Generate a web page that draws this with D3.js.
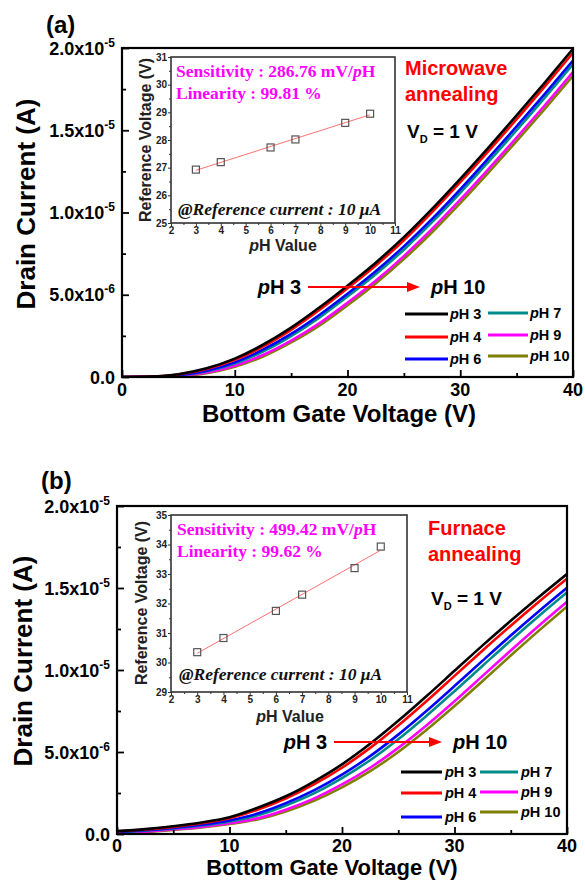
<!DOCTYPE html>
<html><head><meta charset="utf-8">
<script src="https://cdn.jsdelivr.net/npm/d3@7"></script>
<style>
body{margin:0;background:#fff}
svg text{font-family:"Liberation Sans",Arial,sans-serif;font-weight:bold}
</style>
</head><body>
<svg id="c" width="585" height="881"></svg>
<script>
// ---------------- DATA ----------------
const gateVoltage = [0,2.5,5,7.5,10,12.5,15,17.5,20,22.5,25,27.5,30,32.5,35,37.5,40];
const phNames = ["pH 3","pH 4","pH 6","pH 7","pH 9","pH 10"];
const xTickValues = [0,10,20,30,40];
const yTickValues = [0,5e-6,1e-5,1.5e-5,2e-5];

// Microwave annealing, drain current in µA
const mwPH3  = [0,0.03,0.17,0.53,1.12,1.96,3.00,4.22,5.55,6.95,8.50,10.22,12.05,13.95,15.90,17.90,19.95];
const mwPH4  = [0,0.027,0.15,0.48,1.04,1.85,2.87,4.07,5.39,6.78,8.31,10.02,11.84,13.73,15.67,17.67,19.71];
const mwPH6  = [0,0.02,0.11,0.38,0.89,1.66,2.62,3.77,5.06,6.43,7.94,9.61,11.41,13.30,15.23,17.21,19.24];
const mwPH7  = [0,0.016,0.10,0.35,0.82,1.55,2.49,3.61,4.89,6.25,7.74,9.41,11.20,13.08,15.00,16.98,19.01];
const mwPH9  = [0,0.009,0.07,0.27,0.68,1.34,2.21,3.26,4.51,5.85,7.35,9.00,10.78,12.64,14.56,16.52,18.54];
const mwPH10 = [0,0.006,0.056,0.23,0.62,1.24,2.10,3.12,4.36,5.69,7.17,8.80,10.57,12.43,14.34,16.30,18.31];

// Furnace annealing, drain current in µA
const fnPH3  = [0.18,0.30,0.47,0.70,1.02,1.60,2.30,3.20,4.25,5.50,6.90,8.40,9.95,11.50,13.00,14.45,15.85];
const fnPH4  = [0.16,0.276,0.436,0.654,0.956,1.484,2.16,3.02,4.04,5.25,6.62,8.10,9.64,11.19,12.70,14.16,15.57];
const fnPH6  = [0.13,0.23,0.37,0.56,0.83,1.25,1.88,2.66,3.62,4.75,6.06,7.50,9.02,10.57,12.10,13.58,15.01];
const fnPH7  = [0.11,0.204,0.334,0.516,0.764,1.136,1.74,2.48,3.41,4.50,5.78,7.20,8.71,10.26,11.80,13.29,14.73];
const fnPH9  = [0.08,0.14,0.28,0.436,0.654,0.956,1.484,2.16,3.02,4.04,5.25,6.62,8.10,9.64,11.19,12.70,14.16];
const fnPH10 = [0.06,0.12,0.25,0.40,0.61,0.89,1.37,2.02,2.84,3.83,5.00,6.34,7.80,9.33,10.88,12.40,13.87];

// Insets: reference voltage vs pH
const insetPH = [3,4,6,7,9,10];
const refVoltMW = [26.93,27.20,27.73,28.02,28.62,28.95];
const refVoltFN = [30.35,30.83,31.75,32.30,33.20,33.93];
const insetXTicks = [2,3,4,5,6,7,8,9,10,11];

// ---------------- STYLE ----------------
const seriesColors = ["#000000","#ff0000","#0000ff","#008b8b","#ff00ff","#808000"];

const svg = d3.select("#c");
const defs = svg.append("defs");

function phText(sel, label){
  sel.append("tspan").style("font-style","italic").text(label.slice(0,1));
  sel.append("tspan").text(label.slice(1));
}

function sciParts(v){
  if (v === 0) return ["0.0",""];
  const e = Math.floor(Math.log10(v)+1e-9);
  return [(v/Math.pow(10,e)).toFixed(1)+"x10", String(e)];
}

function drawMain(cfg){
  const x = d3.scaleLinear().domain([0,40]).range([cfg.left,cfg.right]);
  const y = d3.scaleLinear().domain([0,2e-5]).range([cfg.bottom,cfg.top]);
  const g = svg.append("g");

  defs.append("clipPath").attr("id","clip"+cfg.id).append("rect")
    .attr("x",cfg.left).attr("y",cfg.top).attr("width",cfg.right-cfg.left).attr("height",cfg.bottom-cfg.top);

  const line = d3.line()
    .x((d,i)=>x(gateVoltage[i]))
    .y(d=>y(d*1e-6))
    .curve(d3.curveMonotoneX);

  const cg = g.append("g").attr("clip-path",`url(#clip${cfg.id})`);
  for (let i = cfg.series.length-1; i >= 0; i--){
    cg.append("path").attr("d",line(cfg.series[i]))
      .attr("fill","none").attr("stroke",seriesColors[i]).attr("stroke-width",2.6);
  }

  const ax = (gen, tr) => {
    const a = g.append("g").attr("transform",tr).call(gen);
    a.select(".domain").remove();
    a.selectAll("line").attr("stroke","#000").attr("stroke-width",1.8);
    a.selectAll("text").remove();
  };
  const xMinor = xTickValues.slice(1).map((v,i)=>(v+xTickValues[i])/2);
  const yMinor = yTickValues.slice(1).map((v,i)=>(v+yTickValues[i])/2);
  ax(d3.axisBottom(x).tickValues(xTickValues).tickSizeInner(-7).tickSizeOuter(0), `translate(0,${cfg.bottom})`);
  ax(d3.axisBottom(x).tickValues(xMinor).tickSizeInner(-4).tickSizeOuter(0), `translate(0,${cfg.bottom})`);
  ax(d3.axisLeft(y).tickValues(yTickValues).tickSizeInner(-7).tickSizeOuter(0), `translate(${cfg.left},0)`);
  ax(d3.axisLeft(y).tickValues(yMinor).tickSizeInner(-4).tickSizeOuter(0), `translate(${cfg.left},0)`);

  g.append("rect").attr("x",cfg.left).attr("y",cfg.top)
    .attr("width",cfg.right-cfg.left).attr("height",cfg.bottom-cfg.top)
    .attr("fill","none").attr("stroke","#000").attr("stroke-width",2.2);

  xTickValues.forEach(v=>{
    g.append("text").attr("x",x(v)).attr("y",cfg.bottom+cfg.xTickDy).attr("text-anchor","middle")
      .attr("font-size",18).text(v);
  });
  yTickValues.forEach(v=>{
    const [m,e] = sciParts(v);
    const t = g.append("text").attr("x",cfg.left-7).attr("y",y(v)+6.5).attr("text-anchor","end").attr("font-size",18);
    t.append("tspan").text(m);
    if (e) t.append("tspan").attr("dy",-8).attr("font-size",12).text(e);
  });

  g.append("text").attr("x",cfg.xTitle[0]).attr("y",cfg.xTitle[1]).attr("text-anchor","middle")
    .attr("font-size",cfg.xTitleSize).text("Bottom Gate Voltage (V)");
  g.append("text").attr("transform",`translate(${cfg.yTitle[0]},${cfg.yTitle[1]}) rotate(-90)`)
    .attr("text-anchor","middle").attr("font-size",26).text("Drain Current (A)");

  g.append("text").attr("x",cfg.letter[0]).attr("y",cfg.letter[1]).attr("font-size",24).text(cfg.letterText);

  cfg.anneal.forEach((s,i)=>{
    g.append("text").attr("x",cfg.annealPos[0]).attr("y",cfg.annealPos[1]+i*26)
      .attr("font-size",20).attr("fill","#ff0000").text(s);
  });
  const vd = g.append("text").attr("x",cfg.vdPos[0]).attr("y",cfg.vdPos[1]).attr("font-size",19);
  vd.append("tspan").text("V");
  vd.append("tspan").attr("dy",5).attr("font-size",11).text("D");
  vd.append("tspan").attr("dy",-5).text(" = 1 V");

  const ar = cfg.arrow;
  const t1 = g.append("text").attr("x",ar.x0-7).attr("y",ar.y+7).attr("text-anchor","end").attr("font-size",20);
  phText(t1, phNames[0]);
  const t2 = g.append("text").attr("x",ar.x1+11).attr("y",ar.y+7).attr("font-size",20);
  phText(t2, phNames[phNames.length-1]);
  g.append("line").attr("x1",ar.x0).attr("x2",ar.x1-10).attr("y1",ar.y).attr("y2",ar.y)
    .attr("stroke","#ff0000").attr("stroke-width",2.2);
  g.append("path").attr("d",`M${ar.x1},${ar.y} L${ar.x1-13},${ar.y-5} L${ar.x1-13},${ar.y+5} Z`).attr("fill","#ff0000");

  const lg = cfg.legend;
  phNames.forEach((n,i)=>{
    const col = i < 3 ? 0 : 1;
    const row = i % 3;
    const ly = lg.rows[col][row];
    const [lx0,lx1,tx] = lg.cols[col];
    g.append("line").attr("x1",lx0).attr("x2",lx1).attr("y1",ly).attr("y2",ly)
      .attr("stroke",seriesColors[i]).attr("stroke-width",3);
    const t = g.append("text").attr("x",tx).attr("y",ly+5).attr("font-size",14.5);
    phText(t,n);
  });

  drawInset(cfg.inset);
}

function drawInset(c){
  const g = svg.append("g");
  const x = d3.scaleLinear().domain([2,11]).range([c.left,c.right]);
  const y = d3.scaleLinear().domain(c.yDomain).range([c.bottom,c.top]);
  g.append("rect").attr("x",c.left).attr("y",c.top).attr("width",c.right-c.left).attr("height",c.bottom-c.top)
    .attr("fill","#fff").attr("stroke","#333").attr("stroke-width",1.6);

  const yTicks = d3.range(c.yDomain[0], c.yDomain[1]+0.5, 1);
  const yMinor = yTicks.slice(1).map(v=>v-0.5);
  const xMinor = insetXTicks.slice(1).map(v=>v-0.5);
  const style = a => {
    a.select(".domain").remove();
    a.selectAll("line").attr("stroke","#333").attr("stroke-width",1);
    a.selectAll("text").attr("font-size",10).attr("fill","#222")
      .style("font-family","'Liberation Sans',Arial,sans-serif").style("font-weight","bold");
  };
  const fmt = d3.format("d");
  g.append("g").attr("transform",`translate(0,${c.bottom})`)
    .call(d3.axisBottom(x).tickValues(insetXTicks).tickSize(3).tickPadding(1).tickFormat(fmt)).call(style);
  g.append("g").attr("transform",`translate(0,${c.bottom})`)
    .call(d3.axisBottom(x).tickValues(xMinor).tickSize(2).tickFormat("")).call(style);
  g.append("g").attr("transform",`translate(${c.left},0)`)
    .call(d3.axisLeft(y).tickValues(yTicks).tickSize(3).tickPadding(1).tickFormat(fmt)).call(style);
  g.append("g").attr("transform",`translate(${c.left},0)`)
    .call(d3.axisLeft(y).tickValues(yMinor).tickSize(2).tickFormat("")).call(style);

  // least-squares fit of the reference voltages
  const n = insetPH.length;
  const mx = d3.mean(insetPH), my = d3.mean(c.values);
  let sxy = 0, sxx = 0;
  insetPH.forEach((p,i)=>{ sxy += (p-mx)*(c.values[i]-my); sxx += (p-mx)*(p-mx); });
  const slope = sxy/sxx, icpt = my - slope*mx;
  const p0 = insetPH[0], p1 = insetPH[n-1];
  g.append("line").attr("x1",x(p0)).attr("y1",y(icpt+slope*p0)).attr("x2",x(p1)).attr("y2",y(icpt+slope*p1))
    .attr("stroke","#ff7070").attr("stroke-width",1);
  insetPH.forEach((p,i)=>{
    g.append("rect").attr("x",x(p)-3.5).attr("y",y(c.values[i])-3.5).attr("width",7).attr("height",7)
      .attr("fill","none").attr("stroke","#555").attr("stroke-width",1.2);
  });

  g.append("text").attr("transform",`translate(${c.yTitle[0]},${c.yTitle[1]}) rotate(-90)`)
    .attr("text-anchor","middle").attr("font-size",16).attr("fill","#222").text("Reference Voltage (V)");
  const xt = g.append("text").attr("x",c.xTitle[0]).attr("y",c.xTitle[1]).attr("text-anchor","middle")
    .attr("font-size",16).attr("fill","#222");
  phText(xt,"pH Value");

  const serif = "'Liberation Serif','Times New Roman',serif";
  const s1 = g.append("text").attr("x",c.textX).attr("y",c.sensY).attr("font-size",17.5).attr("fill","#ff00ff")
    .style("font-family",serif);
  s1.append("tspan").text(`Sensitivity : ${c.sens} mV/`);
  s1.append("tspan").style("font-style","italic").text("p");
  s1.append("tspan").text("H");
  g.append("text").attr("x",c.textX).attr("y",c.sensY+22).attr("font-size",17.5).attr("fill","#ff00ff")
    .style("font-family",serif).text(`Linearity : ${c.lin} %`);
  g.append("text").attr("x",c.textX+2).attr("y",c.refY).attr("font-size",17.5).attr("fill","#111")
    .style("font-family",serif).style("font-style","italic").text("@Reference current : 10 \u03bcA");
}

drawMain({
  id:"a", left:122, right:573, top:48, bottom:377, xTickDy:19,
  series:[mwPH3,mwPH4,mwPH6,mwPH7,mwPH9,mwPH10],
  xTitle:[339,422], xTitleSize:24, yTitle:[35,204], letter:[46,33], letterText:"(a)",
  anneal:["Microwave","annealing"], annealPos:[405,75], vdPos:[407,138],
  arrow:{x0:308, x1:420, y:287},
  legend:{cols:[[405,448,450],[488,528,530]], rows:[[314,337,359],[313,335,356]]},
  inset:{left:171,right:395,top:57,bottom:223,yDomain:[25,31],values:refVoltMW,
    yTitle:[151,140], xTitle:[283,251], textX:176, sensY:77, refY:215, sens:"286.76", lin:"99.81"}
});

drawMain({
  id:"b", left:117, right:567, top:506, bottom:834, xTickDy:18,
  series:[fnPH3,fnPH4,fnPH6,fnPH7,fnPH9,fnPH10],
  xTitle:[332,875], xTitleSize:22, yTitle:[32,661], letter:[41,489], letterText:"(b)",
  anneal:["Furnace","annealing"], annealPos:[428,535], vdPos:[431,605],
  arrow:{x0:334, x1:442, y:742},
  legend:{cols:[[401,442,445],[480,518,521]], rows:[[772,793,817],[772,792,812]]},
  inset:{left:171,right:407,top:515,bottom:692,yDomain:[29,35],values:refVoltFN,
    yTitle:[147,603], xTitle:[290,722], textX:177, sensY:535, refY:680, sens:"499.42", lin:"99.62"}
});
</script>
</body></html>
